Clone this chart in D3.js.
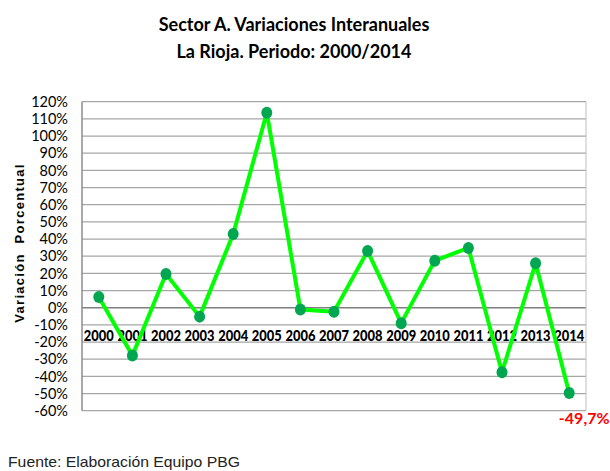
<!DOCTYPE html>
<html><head><meta charset="utf-8">
<script src="https://cdn.jsdelivr.net/npm/d3@7"></script>
<style>body{margin:0;background:#fff}</style>
</head><body>
<svg id="c" width="610" height="471"></svg>
<script>
const years = ["2000","2001","2002","2003","2004","2005","2006","2007","2008","2009","2010","2011","2012","2013","2014"];
const values = [6.3,-27.8,19.6,-5.2,42.9,113.6,-1.0,-2.3,33.0,-9.0,27.4,34.8,-37.6,25.9,-49.7];
const yTicks = [120,110,100,90,80,70,60,50,40,30,20,10,0,-10,-20,-30,-40,-50,-60];
const titleLines = ["Sector A. Variaciones Interanuales","La Rioja. Periodo: 2000/2014"];
const yLabel = "Variación  Porcentual";
const source = "Fuente: Elaboración Equipo PBG";
const lastLabel = "-49,7%";

const svg = d3.select("#c");
const L=82, R=586, T=101.7, B=410.7;
const x = d3.scaleBand().domain(years).range([L,R]);
const y = d3.scaleLinear().domain([-60,120]).range([B,T]);
const narrow = "Lato,Carlito,Calibri,sans-serif";

// gridlines
svg.append("g").selectAll("line").data(yTicks).join("line")
  .attr("x1",L).attr("x2",R).attr("y1",d=>y(d)).attr("y2",d=>y(d))
  .attr("stroke",d=>d===0?"#7f7f7f":"#a6a6a6").attr("stroke-width",d=>d===0?1.5:1.2);
svg.append("line").attr("x1",L).attr("x2",L).attr("y1",T).attr("y2",B).attr("stroke","#8c8c8c").attr("stroke-width",1.5);
svg.append("line").attr("x1",R).attr("x2",R).attr("y1",T).attr("y2",B).attr("stroke","#bfbfbf").attr("stroke-width",1);

// y axis labels
const ya = svg.append("g").attr("transform",`translate(${L},0)`)
  .call(d3.axisLeft(y).tickValues(yTicks).tickSize(0).tickPadding(14).tickFormat(d=>d+"%"));
ya.select(".domain").remove();
ya.selectAll("text").attr("font-family",narrow).attr("font-size",14.5).attr("fill","#000");

// category labels
svg.append("g").selectAll("text").data(years).join("text")
  .attr("x",d=>x(d)+x.bandwidth()/2).attr("y",y(-10)+16)
  .attr("text-anchor","middle").attr("font-family",narrow).attr("font-weight","900")
  .attr("font-size",15).attr("textLength",30).attr("lengthAdjust","spacingAndGlyphs")
  .attr("fill","#000").text(d=>d);

// line
const line = d3.line().x((d,i)=>x(years[i])+x.bandwidth()/2).y(d=>y(d));
svg.append("path").datum(values).attr("d",line).attr("fill","none")
  .attr("stroke","#00ff00").attr("stroke-width",4).attr("stroke-linejoin","round");
svg.append("g").selectAll("ellipse").data(values).join("ellipse")
  .attr("cx",(d,i)=>x(years[i])+x.bandwidth()/2).attr("cy",d=>y(d))
  .attr("rx",5.5).attr("ry",6).attr("fill","#00a650");

// last label
svg.append("text").attr("x",x(years[14])+x.bandwidth()/2+15).attr("y",y(values[14])+31)
  .attr("text-anchor","middle").attr("font-family",narrow).attr("font-weight","bold")
  .attr("font-size",16).attr("fill","#ff0000").text(lastLabel);

// title
svg.append("g").selectAll("text").data(titleLines).join("text")
  .attr("x",294).attr("y",(d,i)=>31+i*27).attr("text-anchor","middle")
  .attr("font-family",narrow).attr("font-weight","bold").attr("font-size",18).attr("fill","#000").text(d=>d);

// y title
svg.append("text").attr("transform","translate(24,243) rotate(-90)")
  .attr("text-anchor","middle").attr("font-family","'Liberation Sans',Arial,sans-serif")
  .attr("font-weight","bold").attr("font-size",13).attr("letter-spacing",1.3).attr("fill","#000")
  .attr("xml:space","preserve").style("white-space","pre").text(yLabel);

// source
svg.append("text").attr("x",8).attr("y",467).attr("font-family","'Liberation Sans',Arial,sans-serif")
  .attr("font-size",15).attr("textLength",232).attr("lengthAdjust","spacingAndGlyphs")
  .attr("fill","#222").text(source);
</script>
</body></html>
